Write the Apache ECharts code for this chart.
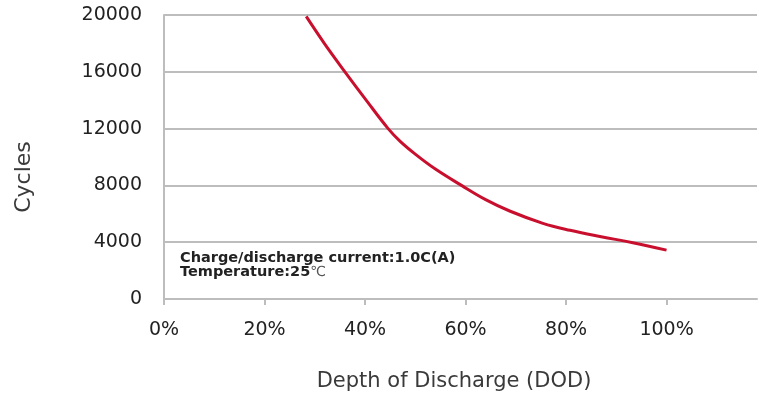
<!DOCTYPE html>
<html><head><meta charset="UTF-8">
<title>cycles-dod</title>
<style>*{margin:0;padding:0}#chart{width:759px;height:400px}</style>
</head>
<body>
<div id="chart"></div>
<script src="https://cdn.jsdelivr.net/npm/echarts@6/dist/echarts.min.js"></script>
<script>
// depth of discharge (%) and cycle count
const dod = [28.3, 32, 36, 40.3, 44.6, 47, 50, 54, 59.2, 64, 68.9, 75.4, 80.8, 87, 93.3, 100];
const cycles = [19900, 17950, 16000, 13970, 12000, 11100, 10200, 9150, 8000, 7000, 6180, 5330, 4840, 4390, 3960, 3440];
const xTicks = [0, 20, 40, 60, 80, 100];
const yTicks = [0, 4000, 8000, 12000, 16000, 20000];
const noteLines = ['Charge/discharge current:1.0C(A)', 'Temperature:25'];
const noteUnit = '℃';

const chart = echarts.init(document.getElementById('chart'));
const grey = '#bdbdbd';
const labelFont = { fontFamily: 'DejaVu Sans', fontSize: 19, color: '#222' };
chart.setOption({
    animation: false,
    grid: { left: 164, right: 2, top: 15, bottom: 101 },
    xAxis: {
        type: 'value', min: 0, max: 118, interval: 20,
        name: 'Depth of Discharge (DOD)', nameLocation: 'middle', nameGap: 72,
        nameTextStyle: { fontFamily: 'DejaVu Sans', fontSize: 21, color: '#3a3a3a', padding: [0, 13, 0, 0] },
        axisLine: { show: true, lineStyle: { color: grey, width: 2 } },
        axisTick: { show: true, customValues: xTicks, length: 6, lineStyle: { color: grey, width: 2 } },
        axisLabel: Object.assign({ customValues: xTicks, formatter: v => v + '%', margin: 22 }, labelFont),
        splitLine: { show: false }
    },
    yAxis: {
        type: 'value', min: 0, max: 20000, interval: 4000,
        name: 'Cycles', nameLocation: 'middle', nameGap: 129, nameRotate: 90,
        nameTextStyle: { fontFamily: 'DejaVu Sans', fontSize: 22, color: '#3a3a3a', padding: [0, 40, 0, 0] },
        axisLine: { show: true, lineStyle: { color: grey, width: 2 } },
        axisTick: { show: false },
        axisLabel: Object.assign({ customValues: yTicks, formatter: v => String(v), margin: 22 }, labelFont),
        splitLine: { show: true, lineStyle: { color: grey, width: 2 } }
    },
    series: [{
        type: 'line', smooth: 0.4, showSymbol: false,
        data: dod.map((d, i) => [d, cycles[i]]),
        lineStyle: { color: '#c8102e', width: 3 }
    }],
    graphic: [
        { type: 'text', left: 180, top: 251,
          style: { text: noteLines[0], font: 'bold 14.5px "DejaVu Sans"', fill: '#222' } },
        { type: 'text', left: 180, top: 265,
          style: { text: '{b|' + noteLines[1] + '}{u|' + noteUnit + '}',
              rich: { b: { font: 'bold 14.5px "DejaVu Sans"', fill: '#222', color: '#222' },
                      u: { font: '14px "DejaVu Sans"', fill: '#555', color: '#555' } } } }
    ]
});
</script>
</body></html>
